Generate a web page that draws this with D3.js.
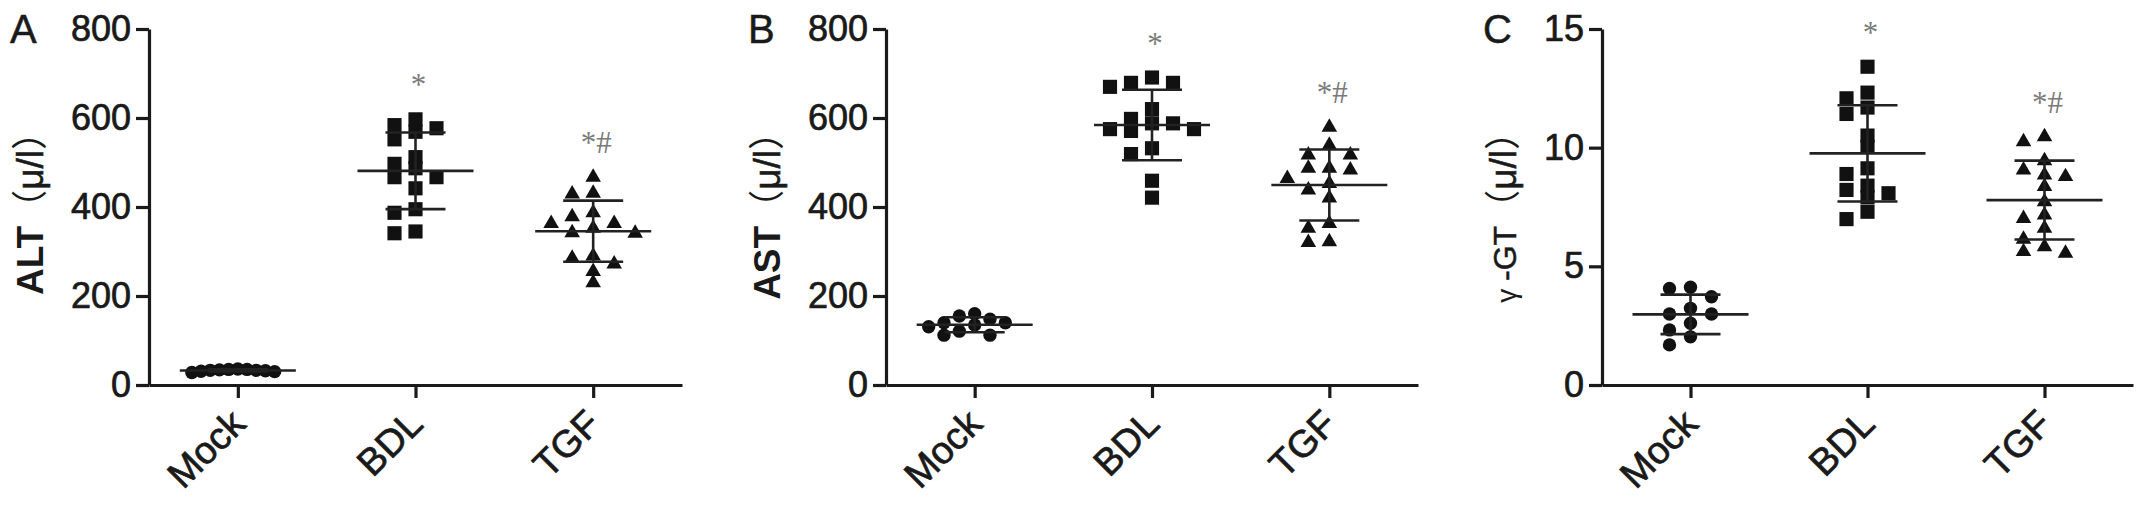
<!DOCTYPE html>
<html><head><meta charset="utf-8">
<script src="https://cdn.jsdelivr.net/npm/d3@7"></script>
<style>body{margin:0;background:#fff} svg{display:block}</style>
</head><body>
<svg id="c" width="2150" height="508"></svg>
<script>
// ---------- data ----------
const categories = ["Mock", "BDL", "TGF"];
const panelLetters = ["A", "B", "C"];
const annotations = ["", "*", "*#"];

const altMock = [35, 33, 30, 36, 28, 32, 34, 31, 35, 33];
const altBDL  = [597, 584, 577, 569, 552, 512, 497, 487, 467, 467, 442, 395, 387, 345, 341];
const altTGF  = [467, 431, 429, 387, 378, 363, 363, 352, 341, 342, 290, 285, 272, 255, 230];

const astMock = [140, 155, 160, 148, 135, 121, 112, 112, 131, 140];
const astBDL  = [679, 670, 679, 691, 620, 588, 575, 571, 575, 588, 598, 532, 519, 459, 421];
const astTGF  = [579, 539, 517, 517, 487, 483, 487, 464, 453, 438, 420, 352, 363, 320, 322];

const ggtMock = [4.12, 4.07, 3.72, 3.23, 2.99, 2.99, 2.60, 2.32, 2.03, 1.69];
const ggtBDL  = [13.41, 12.32, 12.08, 11.69, 11.42, 10.51, 10.04, 9.13, 8.89, 8.40, 8.22, 8.08, 7.91, 7.30, 6.99];
const ggtTGF  = [10.46, 10.25, 9.45, 9.06, 8.85, 8.78, 8.36, 7.72, 7.02, 7.16, 6.60, 6.14, 5.83, 5.55, 5.62];

const yTicksALT = [0, 200, 400, 600, 800];
const yTicksAST = [0, 200, 400, 600, 800];
const yTicksGGT = [0, 5, 10, 15];

const titleALT = ["ALT", "（", "μ/l", "）"];
const titleAST = ["AST", "（", "μ/l", "）"];
const titleGGT = ["γ ", "-GT", "（", "μ/l", "）"];

// ---------- layout ----------
const FONT = "'Liberation Sans', Arial, Helvetica, sans-serif";
const CJK = "'Noto Sans CJK SC', 'Noto Sans', sans-serif";
const INK = "#1a1a1a";
const yTop = 29, yZero = 385;

const panels = [
  {letter: panelLetters[0], title: titleALT, values: [altMock, altBDL, altTGF], ticks: yTicksALT,
   axisX: 149, endX: 682, letterDx: -139, titleDx: -106, bold: true},
  {letter: panelLetters[1], title: titleAST, values: [astMock, astBDL, astTGF], ticks: yTicksAST,
   axisX: 886, endX: 1418, letterDx: -138, titleDx: -106, bold: true},
  {letter: panelLetters[2], title: titleGGT, values: [ggtMock, ggtBDL, ggtTGF], ticks: yTicksGGT,
   axisX: 1602, endX: 2133, letterDx: -119, titleDx: -86, bold: false}
];

const symbolTypes = [d3.symbolCircle, d3.symbolSquare, d3.symbolTriangle];
const symbolSizes = [140, 200, 105];

function swarm(values, y, cx) {
  const pts = values.map((v, i) => ({v, i, py: y(v)})).sort((a, b) => b.v - a.v);
  const placed = [];
  const u = 10.5, minDx = 20, minDy = 11;
  pts.forEach(p => {
    for (let k = 0; k < 60; k++) {
      const m = Math.ceil(k / 2) * (k % 2 ? -1 : 1);
      const off = m * u;
      if (placed.every(q => Math.abs(q.py - p.py) >= minDy || Math.abs(q.off - off) >= minDx)) {
        p.off = off; break;
      }
    }
    placed.push(p);
  });
  const maxOff = d3.max(placed, p => Math.abs(p.off)) || 1;
  const lim = 46, s = maxOff > lim ? lim / maxOff : 1;
  placed.forEach(p => p.x = cx + p.off * s);
  return placed;
}

const svg = d3.select("#c");
svg.append("rect").attr("width", 2150).attr("height", 508).attr("fill", "#fff");

panels.forEach(P => {
  const g = svg.append("g");
  const y = d3.scaleLinear().domain([0, d3.max(P.ticks)]).range([yZero, yTop]);
  const x = d3.scalePoint().domain(categories).range([P.axisX, P.endX]).padding(0.5);

  // points
  P.values.forEach((vals, gi) => {
    const cx = x(categories[gi]);
    const pts = swarm(vals, y, cx);
    g.append("g").selectAll("path").data(pts).join("path")
      .attr("d", d3.symbol().type(symbolTypes[gi]).size(symbolSizes[gi]))
      .attr("transform", d => `translate(${d.x},${d.py})`)
      .attr("fill", "#111");

    // mean & SD
    const m = d3.mean(vals), sd = d3.deviation(vals);
    const lg = g.append("g").attr("stroke", "#222").attr("stroke-width", 2.6);
    lg.append("line").attr("x1", cx - 58).attr("x2", cx + 58).attr("y1", y(m)).attr("y2", y(m));
    lg.append("line").attr("x1", cx - 30).attr("x2", cx + 30).attr("y1", y(m + sd)).attr("y2", y(m + sd));
    lg.append("line").attr("x1", cx - 30).attr("x2", cx + 30).attr("y1", y(m - sd)).attr("y2", y(m - sd));
    lg.append("line").attr("x1", cx).attr("x2", cx).attr("y1", y(m + sd)).attr("y2", y(m - sd));

    // annotation
    if (annotations[gi]) {
      g.append("text").attr("x", cx + 3).attr("y", y(d3.max(vals)) - 24)
        .attr("text-anchor", "middle").attr("font-family", "'Liberation Serif', 'Times New Roman', serif")
        .attr("font-size", 31).attr("fill", "#7a7a7a").text(annotations[gi]);
    }
  });

  // y axis
  const ya = g.append("g").attr("transform", `translate(${P.axisX},0)`)
    .call(d3.axisLeft(y).tickValues(P.ticks).tickSize(13).tickSizeOuter(0).tickPadding(5));
  ya.select(".domain").attr("stroke", INK).attr("stroke-width", 3.2);
  ya.selectAll(".tick line").attr("stroke", INK).attr("stroke-width", 3.2);
  ya.selectAll(".tick text").attr("font-size", 36).attr("font-family", FONT).attr("fill", INK)
    .attr("stroke", INK).attr("stroke-width", 0.7);

  // x axis
  const xa = g.append("g").attr("transform", `translate(0,${yZero})`)
    .call(d3.axisBottom(x).tickSize(13).tickSizeOuter(0));
  xa.select(".domain").attr("stroke", INK).attr("stroke-width", 3.2);
  xa.selectAll(".tick line").attr("stroke", INK).attr("stroke-width", 3.2);
  xa.selectAll(".tick text")
    .attr("font-size", 38).attr("font-family", FONT).attr("fill", INK)
    .attr("stroke", INK).attr("stroke-width", 0.7)
    .attr("text-anchor", "end").attr("dy", 0).attr("x", 9).attr("y", 41)
    .attr("transform", "rotate(-45,9,41)");

  // panel letter
  g.append("text").attr("x", P.axisX + P.letterDx).attr("y", 43)
    .attr("font-size", 40).attr("font-family", FONT).attr("fill", INK)
    .attr("stroke", INK).attr("stroke-width", 0.5).text(P.letter);

  // y title (anchored at its top end)
  const t = g.append("text")
    .attr("transform", `translate(${P.axisX + P.titleDx},114) rotate(-90)`)
    .attr("text-anchor", "end")
    .attr("font-family", FONT).attr("fill", INK);
  P.title.forEach(part => {
    const ts = t.append("tspan").text(part);
    if (part === "（" || part === "）") ts.attr("font-family", CJK).attr("font-size", 36);
    else if (part === "μ/l") ts.attr("font-size", 37).attr("stroke", INK).attr("stroke-width", 0.6);
    else if (part.startsWith("γ")) ts.attr("font-size", 28);
    else if (P.bold) ts.attr("font-size", 37).attr("font-weight", "bold");
    else ts.attr("font-size", 32).attr("stroke", INK).attr("stroke-width", 0.5);
  });
});
</script>
</body></html>
